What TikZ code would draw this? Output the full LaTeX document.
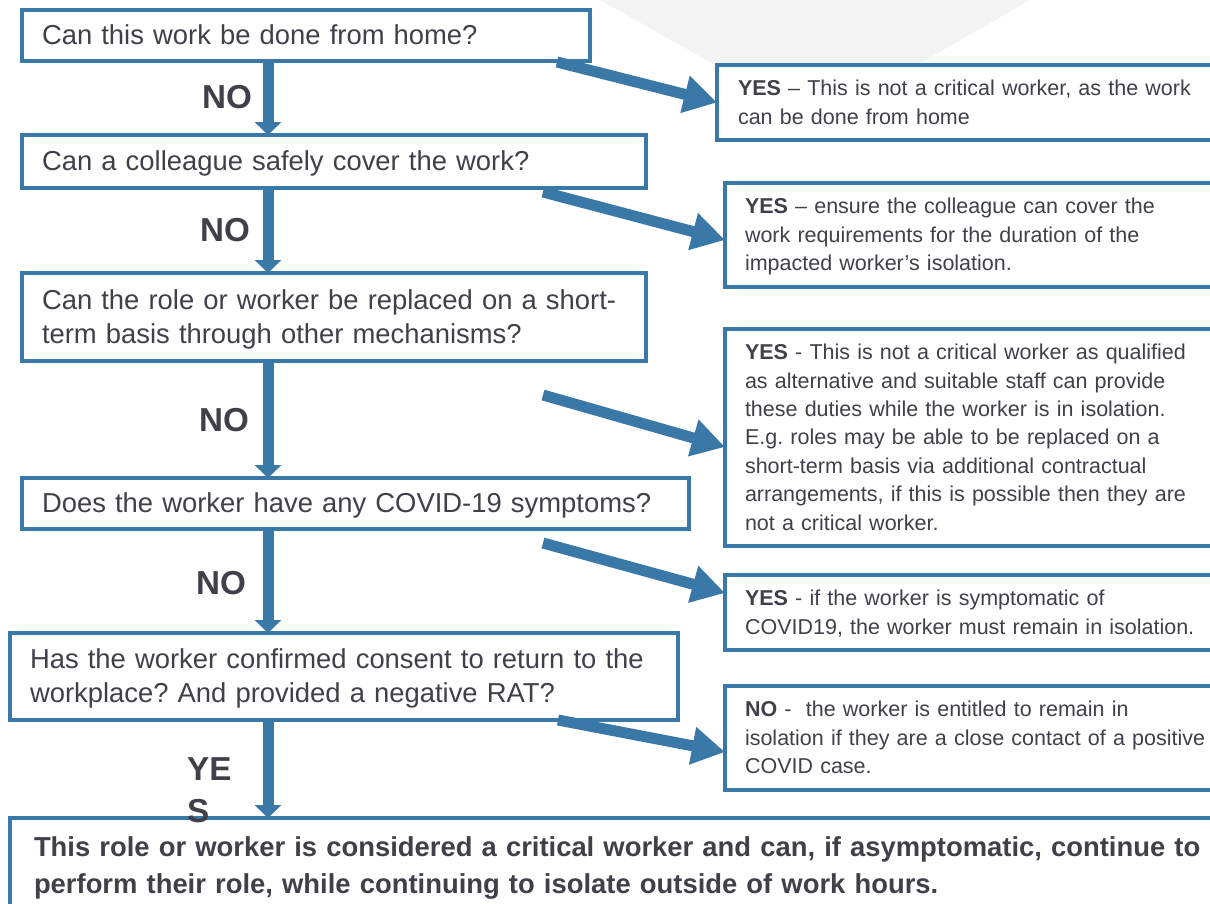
\documentclass[tikz,border=0pt]{standalone}
\usepackage{fontspec}
\setmainfont{Liberation Sans}
\usetikzlibrary{arrows.meta}
\definecolor{flowblue}{RGB}{58,121,167}
\definecolor{ink}{RGB}{64,64,72}
\definecolor{bggray}{RGB}{243,243,243}
\newcommand\bxstrut{\rule[-0.25em]{0pt}{1.18em}}
\hyphenpenalty=10000
\frenchspacing
\begin{document}
\begin{tikzpicture}[x=1pt,y=-1pt,
  basebox/.style={draw=flowblue,line width=4pt,fill=white,rectangle,outer sep=0pt,
    inner ysep=0pt,align=left,text=ink,
    execute at begin node=\bxstrut,execute at end node=\bxstrut},
  qbox/.style={basebox,inner xsep=20pt,font=\fontsize{27.4}{34}\selectfont},
  abox/.style={basebox,anchor=west,inner xsep=20pt,text width=520pt,
    font=\fontsize{21.5}{28.4}\selectfont},
  finalbox/.style={basebox,anchor=north west,inner xsep=24pt,inner ysep=13pt,text width=1200pt,
    font=\fontsize{27.4}{37}\selectfont\bfseries},
  lbl/.style={anchor=base west,text=ink,inner sep=0pt,align=left,font=\fontsize{33.2}{42}\selectfont\bfseries},
  varrow/.style={draw=flowblue,line width=11pt,-{Triangle[length=13pt,width=26pt]}},
  diag/.style={draw=flowblue,line width=11pt,-{Triangle[length=33pt,width=36pt]}}
]
\clip (0,0) rectangle (1210,903);
\fill[white] (0,0) rectangle (1210,903);
\fill[bggray] (600,0) -- (1030,0) -- (915,66) -- (717,66) -- cycle;

% question boxes
\node[qbox,minimum width=568pt,minimum height=51pt,text width=528pt] (q1) at (306,35.5)
  {Can this work be done from home?};
\node[qbox,minimum width=624pt,minimum height=53pt,text width=584pt] (q2) at (334,161.5)
  {Can a colleague safely cover the work?};
\node[qbox,minimum width=624pt,minimum height=88pt,text width=584pt] (q3) at (334,317)
  {Can the role or worker be replaced on a short-\\term basis through other mechanisms?};
\node[qbox,minimum width=667pt,minimum height=51pt,text width=627pt] (q4) at (355.5,503.5)
  {Does the worker have any COVID-19 symptoms?};
\node[qbox,minimum width=668pt,minimum height=87pt,text width=628pt] (q5) at (344,676.5)
  {Has the worker confirmed consent to return to the\\workplace? And provided a negative RAT?};
\node[finalbox] (q6) at (10,818)
  {This role or worker is considered a critical worker and can, if asymptomatic, continue to\\perform their role, while continuing to isolate outside of work hours.};

% answer boxes
\node[abox,inner xsep=21pt,minimum height=75pt] (r1) at (717,102.5)
  {\textbf{YES} – This is not a critical worker, as the work\\can be done from home};
\node[abox,minimum height=104pt] (r2) at (725,235)
  {\textbf{YES} – ensure the colleague can cover the\\work requirements for the duration of the\\impacted worker’s isolation.};
\node[abox,minimum height=217pt] (r3) at (725,437.5)
  {\textbf{YES} - This is not a critical worker as qualified\\as alternative and suitable staff can provide\\these duties while the worker is in isolation.\\E.g. roles may be able to be replaced on a\\short-term basis via additional contractual\\arrangements, if this is possible then they are\\not a critical worker.};
\node[abox,minimum height=75pt] (r4) at (725,612.5)
  {\textbf{YES} - if the worker is symptomatic of\\COVID19, the worker must remain in isolation.};
\node[abox,minimum height=104pt] (r5) at (725,738)
  {\textbf{NO} -\ \ the worker is entitled to remain in\\isolation if they are a close contact of a positive\\COVID case.};

% vertical arrows
\coordinate (ax) at (268,0);
\draw[varrow] (q1.south -| ax) -- (q2.north -| ax);
\draw[varrow] (q2.south -| ax) -- (q3.north -| ax);
\draw[varrow] (q3.south -| ax) -- (q4.north -| ax);
\draw[varrow] (q4.south -| ax) -- (q5.north -| ax);
\draw[varrow] (q5.south -| ax) -- (q6.north -| ax);

% labels
\node[lbl] (n1) at (202,108) {NO};
\node[lbl] (n2) at (200,241) {NO};
\node[lbl] (n3) at (199,431) {NO};
\node[lbl] (n4) at (196,594) {NO};
\node[lbl] (n5) at (187,822) {YE\\S};

% diagonal arrows
\coordinate (s1) at (557,62);
\coordinate (s2) at (543,192);
\coordinate (s3) at (543,395);
\coordinate (s4) at (543,543);
\coordinate (s5) at (558,720);
\draw[diag] (s1) -- (r1.west);
\draw[diag] (s2) -- ([yshift=-5pt]r2.west);
\draw[diag] (s3) -- ([yshift=-9.5pt]r3.west);
\draw[diag] (s4) -- ([yshift=19.5pt]r4.west);
\draw[diag] (s5) -- ([yshift=-14pt]r5.west);
\end{tikzpicture}
\end{document}
